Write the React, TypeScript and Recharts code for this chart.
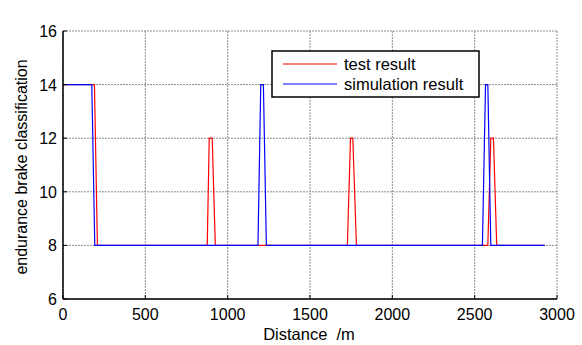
import React from 'react';
import { LineChart, Line, XAxis, YAxis, CartesianGrid, Legend, Label } from 'recharts';

const xTicks = [0, 500, 1000, 1500, 2000, 2500, 3000];
const yTicks = [6, 8, 10, 12, 14, 16];

const testX = [0, 191, 209, 876, 888, 906, 925, 1727, 1746, 1760, 1782, 2580, 2598, 2614, 2634, 2925];
const testY = [14, 14, 8, 8, 12, 12, 8, 8, 12, 12, 8, 8, 12, 12, 8, 8];
const simX = [0, 175, 193, 1184, 1201, 1217, 1235, 2547, 2566, 2580, 2598, 2925];
const simY = [14, 14, 8, 8, 14, 14, 8, 8, 14, 14, 8, 8];

const seriesNames = ['test result', 'simulation result'];
const seriesColors = ['#ff0000', '#0000ff'];

const testData = testX.map((x, i) => ({ x, y: testY[i] }));
const simData = simX.map((x, i) => ({ x, y: simY[i] }));

const FONT = '"Liberation Sans", Arial, sans-serif';
const TICK_LEN = 4;

const BottomTick = (props: any) => {
  const { x, y, payload } = props;
  return (
    <g>
      <line x1={x} x2={x} y1={y} y2={y - TICK_LEN} stroke="#000" strokeWidth={1} />
      <text x={x} y={y + 21} textAnchor="middle" fontFamily={FONT} fontSize={16} fill="#000">
        {payload.value}
      </text>
    </g>
  );
};

const TopTick = (props: any) => {
  const { x, y } = props;
  return <line x1={x} x2={x} y1={y} y2={y + TICK_LEN} stroke="#000" strokeWidth={1} />;
};

const LeftTick = (props: any) => {
  const { x, y, payload } = props;
  return (
    <g>
      <line x1={x} x2={x + TICK_LEN} y1={y} y2={y} stroke="#000" strokeWidth={1} />
      <text x={x - 6} y={y + 6} textAnchor="end" fontFamily={FONT} fontSize={16} fill="#000">
        {payload.value}
      </text>
    </g>
  );
};

const RightTick = (props: any) => {
  const { x, y } = props;
  return <line x1={x} x2={x - TICK_LEN} y1={y} y2={y} stroke="#000" strokeWidth={1} />;
};

const renderTitle = () => (
  <text x={310} y={21} textAnchor="middle" fontFamily={FONT} fontSize={16.5} fill="#000">
    Comparison of matching work
  </text>
);

const renderXLabel = () => (
  <text x={309} y={340} textAnchor="middle" fontFamily={FONT} fontSize={16.5} fill="#000" style={{ whiteSpace: 'pre' }}>
    {'Distance  /m'}
  </text>
);

const renderYLabel = () => (
  <text
    x={27}
    y={167}
    transform="rotate(-90, 27, 167)"
    textAnchor="middle"
    fontFamily={FONT}
    fontSize={16}
    fill="#000"
  >
    endurance brake classification
  </text>
);

const renderLegend = () => (
  <svg width={209} height={48} style={{ display: 'block' }}>
    <rect x={1} y={1} width={207} height={46} fill="#fff" stroke="#000" strokeWidth={1.5} />
    {seriesNames.map((name, i) => (
      <g key={name}>
        <line x1={12} x2={66} y1={14 + i * 20} y2={14 + i * 20} stroke={seriesColors[i]} strokeWidth={1.2} />
        <text x={73} y={19.5 + i * 20} fontFamily={FONT} fontSize={16.5} fill="#000">
          {name}
        </text>
      </g>
    ))}
  </svg>
);

export default function App() {
  return (
    <div style={{ position: 'absolute', left: 0, top: 0 }}>
      <LineChart width={582} height={345} margin={{ top: 31, right: 25, bottom: 0, left: 0 }}>
        <CartesianGrid stroke="#8c8c8c" strokeDasharray="2 1" />
        <XAxis
          dataKey="x"
          type="number"
          domain={[0, 3000]}
          ticks={xTicks}
          interval={0}
          height={46}
          tickSize={0}
          tickMargin={0}
          tickLine={false}
          tick={<BottomTick />}
          axisLine={{ stroke: '#000', strokeWidth: 1.5 }}
          allowDataOverflow
        >
          <Label content={renderXLabel} />
        </XAxis>
        <XAxis
          xAxisId="top"
          orientation="top"
          dataKey="x"
          type="number"
          domain={[0, 3000]}
          ticks={xTicks}
          interval={0}
          height={0}
          tickSize={0}
          tickMargin={0}
          tickLine={false}
          tick={<TopTick />}
          axisLine={{ stroke: '#000', strokeWidth: 1.5 }}
          allowDataOverflow
        >
          <Label content={renderTitle} />
        </XAxis>
        <YAxis
          type="number"
          domain={[6, 16]}
          ticks={yTicks}
          interval={0}
          width={63}
          tickSize={0}
          tickMargin={0}
          tickLine={false}
          tick={<LeftTick />}
          axisLine={{ stroke: '#000', strokeWidth: 1.5 }}
          allowDataOverflow
        >
          <Label content={renderYLabel} />
        </YAxis>
        <YAxis
          yAxisId="right"
          orientation="right"
          type="number"
          domain={[6, 16]}
          ticks={yTicks}
          interval={0}
          width={0}
          tickSize={0}
          tickMargin={0}
          tickLine={false}
          tick={<RightTick />}
          axisLine={{ stroke: '#000', strokeWidth: 1.5 }}
          allowDataOverflow
        />
        <Legend
          layout="horizontal"
          verticalAlign="middle"
          align="center"
          content={renderLegend}
          wrapperStyle={{ left: 271, top: 50, width: 209, height: 48 }}
        />
        <Line
          data={testData}
          dataKey="y"
          name={seriesNames[0]}
          type="linear"
          stroke={seriesColors[0]}
          strokeWidth={1.2}
          dot={false}
          activeDot={false}
          isAnimationActive={false}
        />
        <Line
          data={simData}
          dataKey="y"
          name={seriesNames[1]}
          type="linear"
          stroke={seriesColors[1]}
          strokeWidth={1.2}
          dot={false}
          activeDot={false}
          isAnimationActive={false}
        />
      </LineChart>
    </div>
  );
}
